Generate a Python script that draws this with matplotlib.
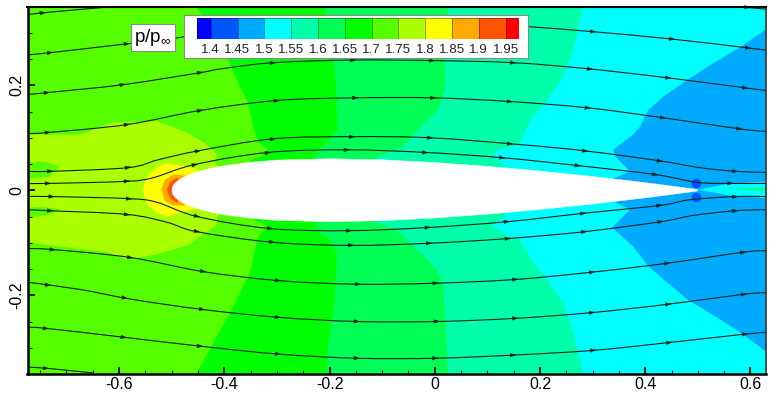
import numpy as np
import matplotlib
matplotlib.use('Agg')
import matplotlib.pyplot as plt
from matplotlib.colors import ListedColormap, BoundaryNorm
from matplotlib.patches import PathPatch
from matplotlib.path import Path

plt.rcParams['font.family'] = ['Liberation Sans', 'DejaVu Sans']
plt.rcParams['mathtext.fontset'] = 'dejavusans'
plt.rcParams['mathtext.default'] = 'regular'

# legend levels and colours
levels = [1.4, 1.45, 1.5, 1.55, 1.6, 1.65, 1.7, 1.75, 1.8, 1.85, 1.9, 1.95]
level_labels = ['1.4', '1.45', '1.5', '1.55', '1.6', '1.65', '1.7', '1.75', '1.8', '1.85', '1.9', '1.95']
level_colors = ['#0000ff', '#0055ff', '#00aaff', '#00ffff', '#00ffaa', '#00ff55', '#00ff00',
                '#55ff00', '#aaff00', '#ffff00', '#ffaa00', '#ff5500', '#ff0000']

# NACA 0012 section
foil_s = [0, .001, .0025, .005, .0125, .025, .05, .075, .1, .15, .2, .3, .4, .5, .6, .7, .8, .9, .95, 1]
foil_t = [0, .0056, .0087, .0122, .0189, .0262, .0356, .042, .0468, .0534, .0574, .06, .058, .0529,
          .0456, .0366, .0262, .0145, .0081, .0013]

# pressure band boundaries, top of the window to the bottom
b_165_x = [-.452, -.393, -.374, -.355, -.345, -.336, -.317, -.328, -.351, -.351, -.347, -.317, -.336,
           -.342, -.351, -.370, -.389, -.414, -.452]
b_165_y = [.350, .248, .205, .167, .121, .093, .077, .066, .056, 0, -.054, -.069, -.088,
           -.113, -.157, -.195, -.233, -.278, -.348]
b_160_x = [-.209, -.193, -.188, -.186, -.184, -.205, -.224, -.228, -.228, -.228, -.222, -.203, -.186,
           -.188, -.193, -.203, -.205]
b_160_y = [.350, .248, .205, .148, .115, .091, .074, .062, 0, -.060, -.079, -.090, -.119,
           -.176, -.233, -.297, -.348]
b_155_x = [.025, .020, .020, .006, -.028, -.060, -.110, -.110, -.113, -.072, -.028, .004, .016, .021, .025]
b_155_y = [.350, .245, .192, .153, .119, .083, .064, 0, -.061, -.075, -.119, -.151, -.175, -.252, -.348]
b_150_x = [.282, .272, .263, .244, .214, .181, .162, .124, .109, .134, .134, .134, .109, .139, .162,
           .172, .187, .210, .244, .263, .282]
b_150_y = [.350, .305, .267, .216, .172, .134, .087, .077, .068, .045, 0, -.050, -.067, -.088, -.094,
           -.109, -.138, -.166, -.213, -.270, -.348]

# closed regions
blue_x = [.629, .581, .518, .480, .434, .406, .390, .377, .339, .343, .371, .339, .339, .371, .337, .377,
          .406, .480, .542, .581, .629]
blue_y = [.306, .273, .235, .210, .178, .153, .121, .106, .077, .064, .036, .022, -.021, -.037, -.071, -.107,
          -.145, -.208, -.246, -.271, -.307]
wake_x = [.5, .562, .629, .629, .562]
wake_y = [.001, .013, .016, -.015, -.010]
wake_core_x = [.56, .629, .629]
wake_core_y = [.003, .006, -.003]
blob_x = [.496, .496]
blob_y = [.013, -.012]

light_x = [-.775, -.674, -.612, -.528, -.471, -.433, -.414, -.418, -.402, -.402, -.414, -.414, -.433, -.471,
           -.528, -.585, -.623, -.745, -.775]
light_y = [.106, .106, .129, .131, .110, .087, .068, .053, .036, -.037, -.052, -.065, -.080, -.105,
           -.122, -.132, -.118, -.103, -.099]
notch_up_x = [-.775, -.745, -.713, -.732, -.775]
notch_up_y = [.053, .055, .045, .026, .021]
notch_lo_x = [-.775, -.745, -.713, -.732, -.775]
notch_lo_y = [-.033, -.032, -.036, -.047, -.052]
yellow_x = [-.555, -.547, -.528, -.509, -.471, -.446, -.44, -.446, -.471, -.509, -.528, -.547]
yellow_y = [.001, .026, .043, .051, .045, .037, 0, -.033, -.039, -.050, -.042, -.027]
orange_x = [-.520, -.513, -.497, -.471, -.46, -.475, -.497, -.513]
orange_y = [.001, .020, .030, .028, 0, -.029, -.029, -.020]
dark_orange_x = [-.509, -.503, -.490, -.47, -.490, -.503]
dark_orange_y = [.001, .015, .024, 0, -.024, -.015]
red_x = [-.503, -.497, -.48, -.497]
red_y = [.001, .011, 0, -.011]

# streamlines: x, y and the x stations of their arrowheads
s0_x = [.586, .629]
s0_y = [.349, .345]
s0_a = [.594]
s1_x = [-.775, -.745, -.621]
s1_y = [.334, .338, .349]
s1_a = [-.745]
s2_x = [-.775, -.731, -.585, -.478, -.351, -.161, .029, .187, .301, .451, .596, .629]
s2_y = [.258, .262, .279, .292, .315, .325, .323, .311, .302, .288, .271, .267]
s2_a = [-.731, -.585, .301, .451, .596]
s3_x = [-.775, -.737, -.593, -.446, -.408, -.307, -.155, -.005, .149, .295, .444, .590, .629]
s3_y = [.182, .186, .201, .224, .231, .243, .248, .247, .243, .231, .214, .195, .190]
s3_a = [-.737, -.593, -.446, -.307, -.155, -.005, .149, .295, .444, .590]
s4_x = [-.775, -.735, -.585, -.446, -.300, -.151, -.003, .143, .291, .434, .579, .629]
s4_y = [.108, .110, .125, .152, .171, .176, .176, .169, .157, .138, .117, .112]
s4_a = [-.735, -.585, -.446, -.300, -.151, -.003, .143, .291, .434, .579]
s5_x = [-.775, -.731, -.583, -.526, -.450, -.307, -.157, -.009, .162, .286, .428, .504, .571, .629]
s5_y = [.036, .036, .043, .058, .075, .098, .102, .100, .087, .075, .056, .043, .036, .034]
s5_a = [-.731, -.583, -.450, -.307, -.157, -.009, .143, .286, .428, .571]
s6_x = [-.775, -.735, -.585, -.535, -.456, -.317, -.167, -.018, .128, .272, .419, .499, .562, .629]
s6_y = [.013, .013, .017, .024, .049, .072, .077, .072, .062, .047, .030, .015, .013, .013]
s6_a = [-.735, -.585, -.456, -.317, -.167, -.018, .128, .272, .419, .562]
s7_x = [-.775, -.728, -.581, -.528, -.452, -.313, -.163, -.013, .137, .282, .427, .486, .571, .629]
s7_y = [-.012, -.012, -.016, -.023, -.050, -.073, -.077, -.071, -.060, -.044, -.029, -.018, -.012, -.012]
s7_a = [-.728, -.581, -.452, -.313, -.163, -.013, .137, .282, .427, .571]
s8_x = [-.775, -.731, -.585, -.509, -.452, -.309, -.159, -.011, .139, .284, .429, .491, .571, .629]
s8_y = [-.037, -.039, -.046, -.061, -.079, -.099, -.105, -.101, -.092, -.079, -.060, -.048, -.039, -.037]
s8_a = [-.731, -.585, -.452, -.309, -.159, -.011, .139, .284, .429, .571]
s9_x = [-.775, -.726, -.579, -.440, -.298, -.146, .002, .153, .299, .442, .586, .629]
s9_y = [-.111, -.113, -.128, -.155, -.172, -.179, -.177, -.170, -.156, -.139, -.118, -.115]
s9_a = [-.726, -.579, -.440, -.298, -.146, .002, .153, .299, .442, .586]
s10_x = [-.775, -.674, -.574, -.442, -.298, -.148, .004, .153, .299, .444, .588, .629]
s10_y = [-.175, -.189, -.208, -.227, -.242, -.250, -.250, -.244, -.233, -.217, -.198, -.195]
s10_a = [-.735, -.589, -.442, -.298, -.148, .004, .153, .299, .444, .588]
s11_x = [-.775, -.739, -.591, -.446, -.298, -.148, .001, .149, .301, .446, .590, .629]
s11_y = [-.261, -.263, -.280, -.297, -.312, -.320, -.320, -.314, -.305, -.290, -.274, -.271]
s11_a = [-.739, -.591, -.446, -.298, -.148, .001, .149, .301, .446, .590]
s12_x = [-.775, -.739, -.649]
s12_y = [-.337, -.339, -.348]
s12_a = [-.739]

streamlines = [(s0_x, s0_y, s0_a), (s1_x, s1_y, s1_a), (s2_x, s2_y, s2_a), (s3_x, s3_y, s3_a),
               (s4_x, s4_y, s4_a), (s5_x, s5_y, s5_a), (s6_x, s6_y, s6_a), (s7_x, s7_y, s7_a),
               (s8_x, s8_y, s8_a), (s9_x, s9_y, s9_a), (s10_x, s10_y, s10_a), (s11_x, s11_y, s11_a),
               (s12_x, s12_y, s12_a)]

W, H = 781, 393
xmin, xmax = -0.774, 0.629
ymin, ymax = -0.3485, 0.350
line_color = '#08241c'

fig = plt.figure(figsize=(W / 100, H / 100), dpi=100)
ax = fig.add_axes([27.5 / W, (H - 374) / H, 738.2 / W, 367.5 / H])
ax.set_facecolor(level_colors[7])


def fill_right(xs, ys, color):
    # everything to the right of a boundary gets the next band colour
    ax.fill(list(xs) + [1, 1], list(ys) + [-1, 1], color=color, lw=0)


def smooth_path(xs, ys):
    # bezier through the read points so the streamlines have no kinks
    p = np.column_stack([xs, ys])
    verts = [p[0]]
    codes = [Path.MOVETO]
    for i in range(len(p) - 1):
        a = p[max(i - 1, 0)]
        d = p[min(i + 2, len(p) - 1)]
        verts += [p[i] + (p[i + 1] - a) / 6, p[i + 1] - (d - p[i]) / 6, p[i + 1]]
        codes += [Path.CURVE4] * 3
    return Path(verts, codes)


fill_right(b_165_x, b_165_y, level_colors[6])
fill_right(b_160_x, b_160_y, level_colors[5])
fill_right(b_155_x, b_155_y, level_colors[4])
fill_right(b_150_x, b_150_y, level_colors[3])
ax.fill(blue_x, blue_y, color=level_colors[2], lw=0)
ax.fill(wake_x, wake_y, color=level_colors[3], lw=0)
ax.fill(wake_core_x, wake_core_y, color=level_colors[4], lw=0)
ax.scatter(blob_x, blob_y, s=50, color=level_colors[1], lw=0)

ax.fill(light_x, light_y, color=level_colors[8], lw=0)
ax.fill(notch_up_x, notch_up_y, color=level_colors[7], lw=0)
ax.fill(notch_lo_x, notch_lo_y, color=level_colors[7], lw=0)
ax.fill(yellow_x, yellow_y, color=level_colors[9], lw=0)
ax.fill(orange_x, orange_y, color=level_colors[10], lw=0)
ax.fill(dark_orange_x, dark_orange_y, color=level_colors[11], lw=0)
ax.fill(red_x, red_y, color=level_colors[12], lw=0)

# airfoil
s = np.array(foil_s) - 0.5
t = np.array(foil_t)
ax.fill(np.r_[s, s[::-1]], np.r_[t, -t[::-1]], color='white', lw=0.3, zorder=3)

# streamlines with arrowheads
for xs, ys, arrows in streamlines:
    ax.add_patch(PathPatch(smooth_path(xs, ys), fc='none', ec=line_color, lw=0.8, zorder=4))
    for a in arrows:
        y0 = np.interp(a - 0.005, xs, ys)
        y1 = np.interp(a + 0.006, xs, ys)
        ax.annotate('', xy=(a + 0.006, y1), xytext=(a - 0.005, y0), zorder=4,
                    arrowprops=dict(arrowstyle='-|>,head_length=0.9,head_width=0.3', mutation_scale=4.5,
                                    lw=0.2, color=line_color, shrinkA=0, shrinkB=0))

ax.set_xlim(xmin, xmax)
ax.set_ylim(ymin, ymax)
ax.set_xticks([-0.6, -0.4, -0.2, 0, 0.2, 0.4, 0.6])
ax.set_xticklabels(['-0.6', '-0.4', '-0.2', '0', '0.2', '0.4', '0.6'], fontsize=11.5)
ax.set_yticks([-0.2, 0, 0.2])
ax.set_yticklabels(['-0.2', '0', '0.2'], fontsize=11.5, rotation=90, va='center')
ax.set_xticks(np.arange(-0.75, 0.63, 0.05), minor=True)
ax.set_yticks(np.arange(-0.35, 0.35, 0.05), minor=True)
ax.tick_params(which='major', direction='in', length=5, width=1.3, pad=2.5)
ax.tick_params(which='minor', direction='in', length=2.8, width=0.7)
for side, lw in [('left', 1.8), ('bottom', 1.8), ('top', 1.5), ('right', 1.2)]:
    ax.spines[side].set_linewidth(lw)
    ax.spines[side].set_zorder(6)
ax.spines['right'].set_color('#333333')

# legend box and colour bar
box = fig.add_axes([183.5 / W, (H - 58) / H, 344.5 / W, 43 / H], zorder=5)
box.set_xticks([])
box.set_yticks([])
box.set_facecolor('white')
for sp in box.spines.values():
    sp.set_color('#8a8a8a')
    sp.set_linewidth(0.8)

bar = fig.add_axes([197.3 / W, (H - 39) / H, 321.7 / W, 21 / H], zorder=6)
edges = [levels[0] - 0.025] + levels + [levels[-1] + 0.025]
bar.pcolormesh(edges, [0, 1], [np.arange(13)], cmap=ListedColormap(level_colors),
               norm=BoundaryNorm(np.arange(-0.5, 13.5), 13), edgecolors='#00000060', linewidth=0.5)
bar.set_xlim(edges[0], edges[-1])
bar.set_xticks(levels)
bar.set_xticklabels(level_labels, fontsize=9.6, color='#222222')
bar.set_yticks([])
bar.tick_params(axis='x', length=0, pad=3.5)
for sp in bar.spines.values():
    sp.set_visible(False)

fig.text(153 / W, (H - 37) / H, 'p/p$_{\\infty}$', fontsize=13.5, ha='center', va='center', zorder=7,
         bbox=dict(boxstyle='square,pad=0.16', fc='white', ec='#8a8a8a', lw=0.8))

fig.savefig('out.png', dpi=100)
